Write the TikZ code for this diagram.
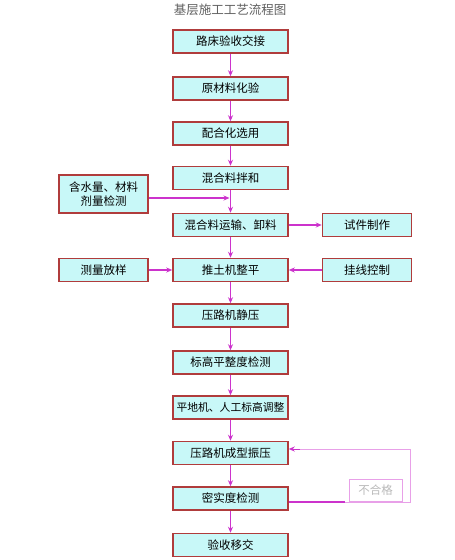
\documentclass[tikz,border=0pt]{standalone}
\usepackage{fontspec}
\newfontfamily\cjk{Noto Sans CJK SC}
\usetikzlibrary{arrows.meta}
\definecolor{boxred}{HTML}{B03C3C}
\definecolor{boxfill}{HTML}{C8F8F8}
\definecolor{arrmag}{HTML}{CC33CC}
\definecolor{fbpink}{HTML}{E8A0E8}
\begin{document}
\begin{tikzpicture}[x=1pt,y=-1pt,
  font=\cjk\fontsize{11.5}{14}\selectfont,
  box/.style={draw=boxred, fill=boxfill, line width=1.5pt, minimum width=115pt, minimum height=23pt, inner sep=0pt, align=center},
  side/.style={box, minimum width=89pt},
  arr/.style={draw=arrmag, line width=1.2pt, -{Stealth[length=6pt,width=5pt]}},
  lbl/.style={draw=fbpink, fill=white, line width=0.8pt, text=gray!55, minimum width=53pt, minimum height=22pt, inner sep=0pt}]
\useasboundingbox[fill=white] (0,0) rectangle (455,560);
\node[text=gray!75!black, font=\cjk\fontsize{12.5}{14}\selectfont] (title) at (230,10) {基层施工工艺流程图};
\node[box] (b1) at (230.5,41.5) {路床验收交接};
\node[box] (b2) at (230.5,88.5) {原材料化验};
\node[box] (b3) at (230.5,133.5) {配合化选用};
\node[box] (b4) at (230.5,178) {混合料拌和};
\node[box] (b5) at (230.5,225) {混合料运输、卸料};
\node[box] (b6) at (230.5,270) {推土机整平};
\node[box] (b7) at (230.5,315.5) {压路机静压};
\node[box] (b8) at (230.5,362.5) {标高平整度检测};
\node[box, font=\cjk\fontsize{10.8}{13}\selectfont] (b9) at (230.5,407.5) {平地机、人工标高调整};
\node[box] (b10) at (230.5,453) {压路机成型振压};
\node[box] (b11) at (230.5,498.5) {密实度检测};
\node[box] (b12) at (230.5,545) {验收移交};
\node[side, minimum height=38pt] (s1) at (103.5,194) {含水量、材料\\剂量检测};
\node[side] (s2) at (367,225) {试件制作};
\node[side] (s3) at (103.5,270) {测量放样};
\node[side] (s4) at (367,270) {挂线控制};
\foreach \a/\b in {b1/b2,b2/b3,b3/b4,b4/b5,b5/b6,b6/b7,b7/b8,b8/b9,b9/b10,b10/b11,b11/b12}
  \draw[arr] (\a) -- (\b);
\draw[arr, shorten >=1pt] ([yshift=-4pt]s1.east) -- ([yshift=-4pt]s1.east -| b4.south);
\draw[arr] (b5) -- (s2);
\draw[arr] (s3) -- (b6);
\draw[arr] (s4) -- (b6);
\coordinate (r1) at (410,502);
\coordinate (r2) at (410,449);
\draw[draw=arrmag, line width=1.2pt] ([yshift=-3.5pt]b11.east) -- (345,502);
\draw[draw=fbpink, line width=1pt] (345,502) -- (r1) -- (r2) -- ([yshift=4pt]b10.east -| 300,0);
\draw[arr, line width=1pt] ([yshift=4pt]b10.east -| 300,0) -- ([yshift=4pt]b10.east);
\node[lbl] (ng) at (375.5,490.5) {不合格};
\end{tikzpicture}
\end{document}
